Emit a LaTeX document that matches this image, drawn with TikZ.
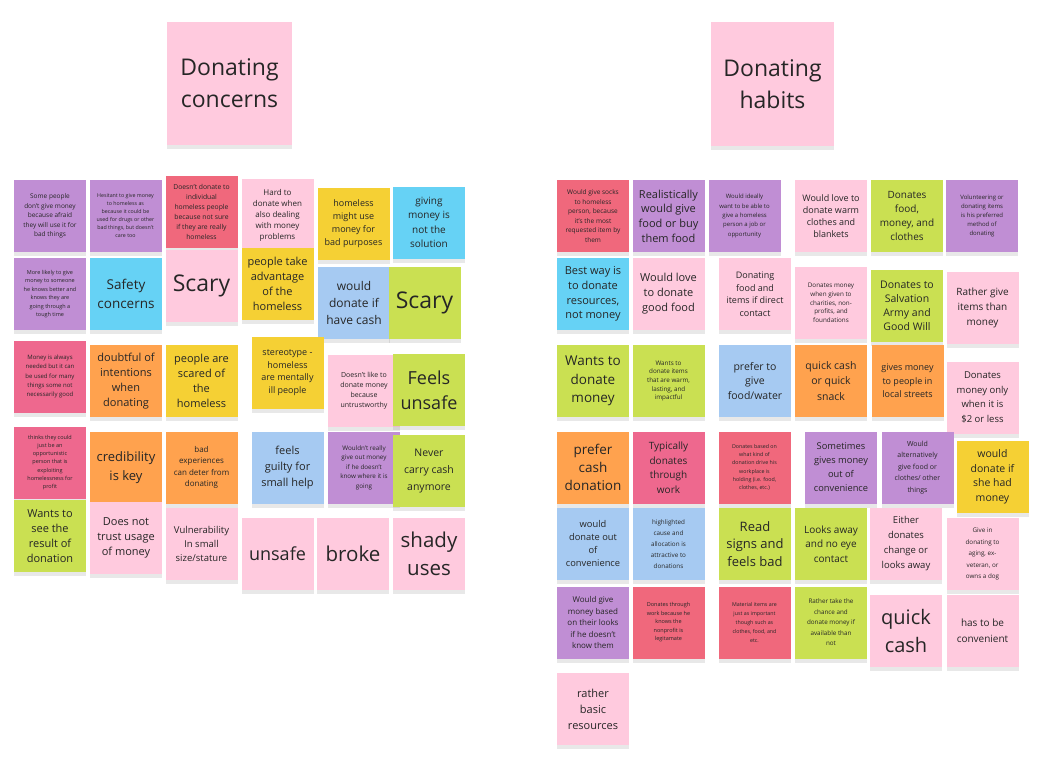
\documentclass[tikz,border=0pt]{standalone}
\usepackage{fontspec}
\setmainfont{Open Sans}
\usetikzlibrary{shadows}
\definecolor{cpurple}{RGB}{192,142,212}
\definecolor{cred}{RGB}{240,104,124}
\definecolor{crose}{RGB}{238,104,142}
\definecolor{cpink}{RGB}{255,202,222}
\definecolor{cyellow}{RGB}{245,208,52}
\definecolor{ccyan}{RGB}{102,210,245}
\definecolor{cblue}{RGB}{166,202,242}
\definecolor{cgreen}{RGB}{202,224,82}
\definecolor{corange}{RGB}{255,162,78}
\definecolor{ctext}{RGB}{38,38,38}
\tikzset{
  note/.style={rectangle, inner sep=0pt, minimum width=72pt, minimum height=72pt,
    align=center, text=ctext,
    drop shadow={shadow xshift=0pt, shadow yshift=-4pt, opacity=0.18}},
}
\newcommand\stk[7]{\node[note, fill=#4, font=\fontsize{#5}{#6}\selectfont] (#1) at (#2,#3) {#7};}
\begin{document}
\begin{tikzpicture}[x=1pt,y=-1pt]
\fill[white] (0,0) rectangle (1045,766);
\useasboundingbox (0,0) rectangle (1045,766);
% headers
\node[note, fill=cpink, minimum width=125pt, minimum height=123pt, font=\fontsize{23}{32}\selectfont] (h1) at (229.5,83.5) {Donating\\concerns};
\node[note, fill=cpink, minimum width=123pt, minimum height=124pt, font=\fontsize{23}{32}\selectfont] (h2) at (772.5,84) {Donating\\habits};
% left cluster
\stk{l1}{50}{216}{cpurple}{6.5}{9.5}{Some people\\don't give money\\because afraid\\they will use it for\\bad things}
\stk{l2}{125.5}{216}{cpurple}{5.3}{8}{Hesitant to give money\\to homeless as\\because it could be\\used for drugs or other\\bad things, but doesn't\\care too}
\stk{l3}{201.5}{211.5}{cred}{6.8}{10}{Doesn't donate to\\individual\\homeless people\\because not sure\\if they are really\\homeless}
\stk{l4}{277.5}{215}{cpink}{8}{11}{Hard to\\donate when\\also dealing\\with money\\problems}
\stk{l5}{353.5}{223.5}{cyellow}{9}{13}{homeless\\might use\\money for\\bad purposes}
\stk{l6}{429}{222.5}{ccyan}{10}{14.5}{giving\\money is\\not the\\solution}
\stk{l7}{50}{294}{cpurple}{5.5}{8.5}{More likely to give\\money to someone\\he knows better and\\knows they are\\going through a\\tough time}
\stk{l8}{126}{294}{ccyan}{13.5}{18.5}{Safety\\concerns}
\stk{l9}{201.5}{285.5}{cpink}{23}{28}{Scary}
\stk{l10}{277.5}{284}{cyellow}{11}{15}{people take\\advantage\\of the\\homeless}
\stk{l11}{354}{302.5}{cblue}{12}{17}{would\\donate if\\have cash}
\stk{l12}{424.5}{302.5}{cgreen}{23}{28}{Scary}
\stk{l13}{50}{376.5}{crose}{6}{9.3}{Money is always\\needed but it can\\be used for many\\things some not\\necessarily good}
\stk{l14}{126}{381}{corange}{11}{15}{doubtful of\\intentions\\when\\donating}
\stk{l15}{201.5}{381}{cyellow}{11}{15}{people are\\scared of\\the\\homeless}
\stk{l16}{287.5}{372.5}{cyellow}{9}{12.5}{stereotype -\\homeless\\are mentally\\ill people}
\stk{l17}{364}{391}{cpink}{7}{10}{Doesn't like to\\donate money\\because\\untrustworthy}
\stk{l18}{429}{390}{cgreen}{18}{25}{Feels\\unsafe}
\stk{l19}{50}{462.5}{crose}{5.5}{8.2}{thinks they could\\just be an\\opportunistic\\person that is\\exploiting\\homelessness for\\profit}
\stk{l20}{126}{467.5}{corange}{13}{18.5}{credibility\\is key}
\stk{l21}{201.5}{467.5}{corange}{8}{11.5}{bad\\experiences\\can deter from\\donating}
\stk{l22}{287.5}{467.5}{cblue}{11}{16}{feels\\guilty for\\small help}
\stk{l23}{364}{467.5}{cpurple}{6.3}{9.5}{Wouldn't really\\give out money\\if he doesn't\\know where it is\\going}
\stk{l24}{429}{471}{cgreen}{10.5}{17}{Never\\carry cash\\anymore}
\stk{l25}{50}{536}{cgreen}{11}{15}{Wants to\\see the\\result of\\donation}
\stk{l26}{126}{538}{cpink}{11}{15}{Does not\\trust usage\\of money}
\stk{l27}{201.5}{544}{cpink}{9.5}{14}{Vulnerability\\In small\\size/stature}
\stk{l28}{277.5}{554}{cpink}{18}{24}{unsafe}
\stk{l29}{353}{554}{cpink}{20.5}{26}{broke}
\stk{l30}{429}{554}{cpink}{20.5}{28}{shady\\uses}
% right cluster
\stk{r1}{593}{216}{cred}{6.5}{9.5}{Would give socks\\to homeless\\person, because\\it's the most\\requested item by\\them}
\stk{r2}{668.5}{216}{cpurple}{11}{14.7}{Realistically\\would give\\food or buy\\them food}
\stk{r3}{744.5}{216}{cpurple}{6}{9.4}{Would ideally\\want to be able to\\give a homeless\\person a job or\\opportunity}
\stk{r4}{831}{216}{cpink}{9}{12.2}{Would love to\\donate warm\\clothes and\\blankets}
\stk{r5}{907}{216}{cgreen}{10}{14}{Donates\\food,\\money, and\\clothes}
\stk{r6}{982}{216}{cpurple}{6}{9}{Volunteering or\\donating items\\is his preferred\\method of\\donating}
\stk{r7}{593}{294}{ccyan}{11}{14.7}{Best way is\\to donate\\resources,\\not money}
\stk{r8}{668.5}{294}{cpink}{11}{15}{Would love\\to donate\\good food}
\stk{r9}{755}{294}{cpink}{9}{12.5}{Donating\\food and\\items if direct\\contact}
\stk{r10}{831}{303}{cpink}{6.3}{8.7}{Donates money\\when given to\\charities, non-\\profits, and\\foundations}
\stk{r11}{907}{306}{cgreen}{10.5}{14}{Donates to\\Salvation\\Army and\\Good Will}
\stk{r12}{982.5}{308}{cpink}{10}{15}{Rather give\\items than\\money}
\stk{r13}{593}{381}{cgreen}{13.5}{18.7}{Wants to\\donate\\money}
\stk{r14}{668.5}{381}{cgreen}{6.3}{8.7}{Wants to\\donate items\\that are warm,\\lasting, and\\impactful}
\stk{r15}{755}{381}{cblue}{10.5}{14.5}{prefer to\\give\\food/water}
\stk{r16}{831}{381}{corange}{10.5}{15.3}{quick cash\\or quick\\snack}
\stk{r17}{907.5}{381}{corange}{9}{13.7}{gives money\\to people in\\local streets}
\stk{r18}{982.5}{397.5}{cpink}{9.5}{14.5}{Donates\\money only\\when it is\\\$2 or less}
\stk{r19}{593}{467.5}{corange}{13.5}{18.3}{prefer\\cash\\donation}
\stk{r20}{668.5}{467.5}{crose}{10}{14.5}{Typically\\donates\\through\\work}
\stk{r21}{754.5}{467.5}{cred}{5.3}{8.3}{Donates based on\\what kind of\\donation drive his\\workplace is\\holding (i.e. food,\\clothes, etc.)}
\stk{r22}{841}{467.5}{cpurple}{9.3}{14}{Sometimes\\gives money\\out of\\convenience}
\stk{r23}{917.5}{467.5}{cpurple}{7}{11.5}{Would\\alternatively\\give food or\\clothes/ other\\things}
\stk{r24}{992.5}{477}{cyellow}{10.5}{14.5}{would\\donate if\\she had\\money}
\stk{r25}{593}{544}{cblue}{9.3}{13}{would\\donate out\\of\\convenience}
\stk{r26}{668.5}{544}{cblue}{6.3}{11}{highlighted\\cause and\\allocation is\\attractive to\\donations}
\stk{r27}{755}{544}{cgreen}{13}{17.5}{Read\\signs and\\feels bad}
\stk{r28}{831}{544}{cgreen}{10}{14.5}{Looks away\\and no eye\\contact}
\stk{r29}{906}{544}{cpink}{9.5}{15}{Either\\donates\\change or\\looks away}
\stk{r30}{982.5}{554}{cpink}{6.3}{11.5}{Give in\\donating to\\aging, ex-\\veteran, or\\owns a dog}
\stk{r31}{593}{622.5}{cpurple}{8}{11.5}{Would give\\money based\\on their looks\\if he doesn't\\know them}
\stk{r32}{668.5}{622.5}{cred}{5.5}{8.5}{Donates through\\work because he\\knows the\\nonprofit is\\legitamate}
\stk{r33}{754.5}{622.5}{cred}{5.3}{9}{Material items are\\just as important\\though such as\\clothes, food, and\\etc.}
\stk{r34}{831}{622.5}{cgreen}{6.3}{10.5}{Rather take the\\chance and\\donate money if\\available than\\not}
\stk{r35}{906}{631}{cpink}{20}{28}{quick\\cash}
\stk{r36}{982.5}{631}{cpink}{10}{15.7}{has to be\\convenient}
\stk{r37}{593}{709}{cpink}{11}{16}{rather\\basic\\resources}
\end{tikzpicture}
\end{document}
